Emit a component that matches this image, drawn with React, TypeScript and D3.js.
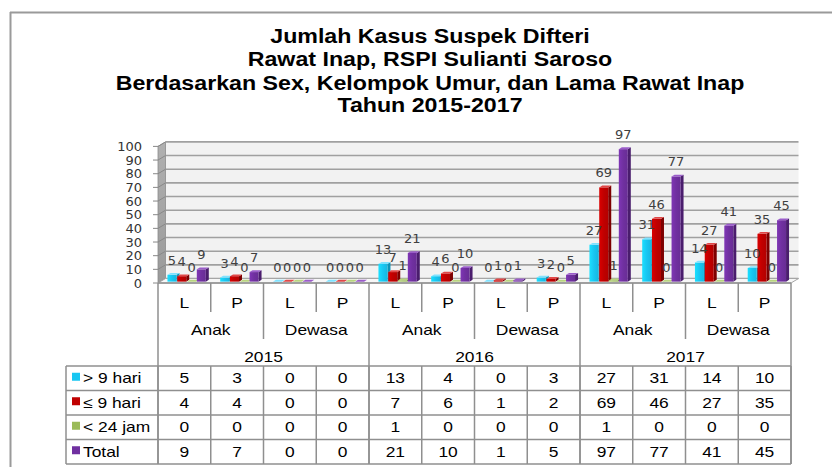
import React from "react";
import * as d3 from "d3";

const years = ["2015", "2016", "2017"];
const groups = ["Anak", "Dewasa"];
const sexes = ["L", "P"];
const seriesNames = ["> 9 hari", "≤ 9 hari", "< 24 jam", "Total"];
const over9 = [5, 3, 0, 0, 13, 4, 0, 3, 27, 31, 14, 10];
const upTo9 = [4, 4, 0, 0, 7, 6, 1, 2, 69, 46, 27, 35];
const under24 = [0, 0, 0, 0, 1, 0, 0, 0, 1, 0, 0, 0];
const totals = [9, 7, 0, 0, 21, 10, 1, 5, 97, 77, 41, 45];
const yTicks = [0, 10, 20, 30, 40, 50, 60, 70, 80, 90, 100];
const titleLines = [
  "Jumlah Kasus Suspek Difteri",
  "Rawat Inap, RSPI Sulianti Saroso",
  "Berdasarkan Sex, Kelompok Umur, dan Lama Rawat Inap",
  "Tahun 2015-2017",
];

const seriesData = [over9, upTo9, under24, totals];
const colors = [
  { front: "#18C6F2", side: "#0B93B8", top: "#7FE2FF" },
  { front: "#C00000", side: "#7E0000", top: "#E04848" },
  { front: "#9BBB59", side: "#6F8A3A", top: "#B9D480" },
  { front: "#7030A0", side: "#4A1D6D", top: "#9A5CC9" },
];

const W = 832;
const H = 467;
const X0 = 158;
const X1 = 791;
const DX = 7.5;
const DY = -4.5;
const F0 = 0.3;
const F1 = 0.7;
const STRETCH = 1.16;
const GRID = "#A0A0A0";
const LINE = "#8F8F8F";

const cats = d3.range(12);
const x = d3.scaleBand<number>().domain(cats).range([X0, X1]).paddingInner(0).paddingOuter(0);
const y = d3.scaleLinear().domain([0, 100]).range([283, 146.4]);
const cw = x.bandwidth();
const xs = d3
  .scaleBand<number>()
  .domain(d3.range(4))
  .range([7.2, cw - 7.2])
  .paddingInner(0.08)
  .paddingOuter(0);

function ST({ x: tx, y: ty, children, size, weight, anchor, fill, family }: any) {
  return (
    <text
      transform={`translate(${tx},${ty}) scale(${STRETCH},1)`}
      textAnchor={anchor || "middle"}
      fontSize={size}
      fontWeight={weight || "normal"}
      fill={fill || "#000"}
      fontFamily={family || "'Liberation Sans', Arial, sans-serif"}
    >
      {children}
    </text>
  );
}

export default function App() {
  const pts = (arr: number[][]) => arr.map((p) => p.join(",")).join(" ");
  const yBack = (v: number) => y(v) + DY;

  const bars: React.ReactNode[] = [];
  const labels: React.ReactNode[] = [];
  cats.forEach((c) => {
    seriesData.forEach((arr, s) => {
      const v = arr[c];
      const bx = (x(c) as number) + (xs(s) as number) + DX * F0;
      const bw = xs.bandwidth();
      const yt = y(v) + DY * F0;
      const yb = y(0) + DY * F0;
      const ddx = DX * (F1 - F0);
      const ddy = DY * (F1 - F0);
      const col = colors[s];
      bars.push(
        <g key={`b${c}-${s}`}>
          {v > 0 && (
            <polygon
              points={pts([[bx + bw, yt], [bx + bw + ddx, yt + ddy], [bx + bw + ddx, yb + ddy], [bx + bw, yb]])}
              fill={col.side}
            />
          )}
          {v > 0 && <rect x={bx} y={yt} width={bw} height={yb - yt} fill={`url(#grad${s})`} />}
          <polygon
            points={pts([[bx, yt], [bx + bw, yt], [bx + bw + ddx, yt + ddy], [bx + ddx, yt + ddy]])}
            fill={col.top}
          />
        </g>
      );
      labels.push(
        <text
          key={`l${c}-${s}`}
          x={bx + bw / 2}
          y={yt - 10}
          textAnchor="middle"
          fontSize={13}
          fill="#404040"
          fontFamily="'DejaVu Sans', Verdana, sans-serif"
        >
          {v}
        </text>
      );
    });
  });

  const rowLines = [366, 390.5, 415, 439.5, 464];
  const boundaries = d3.range(13);

  return (
    <svg width={W} height={H} style={{ position: "absolute", left: 0, top: 0, background: "#fff" }}>
      <defs>
        {colors.map((col, i) => (
          <linearGradient key={i} id={`grad${i}`} x1="0" x2="1" y1="0" y2="0">
            <stop offset="0" stopColor={d3.color(col.front)!.brighter(0.35).formatHex()} />
            <stop offset="0.5" stopColor={col.front} />
            <stop offset="1" stopColor={d3.color(col.front)!.darker(0.2).formatHex()} />
          </linearGradient>
        ))}
        <linearGradient id="sidewall" x1="0" x2="0" y1="0" y2="1">
          <stop offset="0" stopColor="#B0B0B0" />
          <stop offset="1" stopColor="#9A9A9A" />
        </linearGradient>
      </defs>
      <rect x={0} y={0} width={W} height={H} fill="#fff" />
      {/* frame */}
      <line x1={10} x2={W} y1={12.5} y2={12.5} stroke="#9A9A9A" strokeWidth={2} />
      <line x1={10.5} x2={10.5} y1={12} y2={H} stroke="#9A9A9A" strokeWidth={2} />

      {/* title */}
      {titleLines.map((t, i) => (
        <ST key={i} x={430} y={[43, 66, 90, 112][i]} size={20} weight="bold">
          {t}
        </ST>
      ))}

      {/* back wall */}
      <rect x={X0 + DX} y={yBack(100)} width={X1 - X0} height={yBack(0) - yBack(100)} fill="#F2F2F2" />
      {/* side wall */}
      <polygon
        points={pts([[X0, y(0)], [X0, y(100)], [X0 + DX, yBack(100)], [X0 + DX, yBack(0)]])}
        fill="url(#sidewall)"
        stroke="#8A8A8A"
        strokeWidth={0.8}
      />
      {yTicks.map((v) => (
        <g key={`g${v}`}>
          <line x1={X0 + DX} x2={X1 + DX} y1={yBack(v)} y2={yBack(v)} stroke={GRID} strokeWidth={1.6} />
          <line x1={X0} x2={X0 + DX} y1={y(v)} y2={yBack(v)} stroke="#888" strokeWidth={1} />
          <line x1={X0 - 5} x2={X0} y1={y(v)} y2={y(v)} stroke="#888" strokeWidth={1} />
          <text
            x={142}
            y={y(v) + 4.6}
            textAnchor="end"
            fontSize={13}
            fill="#333"
            fontFamily="'DejaVu Sans', Verdana, sans-serif"
          >
            {v}
          </text>
        </g>
      ))}
      {/* floor */}
      <polygon
        points={pts([[X0, y(0)], [X1, y(0)], [X1 + DX, yBack(0)], [X0 + DX, yBack(0)]])}
        fill="#F7F7F7"
        stroke="#A6A6A6"
        strokeWidth={1}
      />

      {bars}
      {labels}

      {/* table */}
      <g stroke={LINE} strokeWidth={1.5}>
        <line x1={X0} x2={X1} y1={283} y2={283} />
        {boundaries.map((i) => {
          const bxp = X0 + i * cw;
          const top = 283;
          let bottom = 312;
          if (i % 4 === 0) bottom = 464;
          else if (i % 2 === 0) bottom = 339;
          return (
            <g key={`v${i}`}>
              <line x1={bxp} x2={bxp} y1={top} y2={bottom} />
              <line x1={bxp} x2={bxp} y1={366} y2={464} />
            </g>
          );
        })}
        {rowLines.map((ry, i) => (
          <line key={`h${i}`} x1={66} x2={X1} y1={ry} y2={ry} />
        ))}
        <line x1={66} x2={66} y1={366} y2={464} />
      </g>

      {/* header labels */}
      {cats.map((c) => (
        <ST key={`s${c}`} x={(x(c) as number) + cw / 2} y={308} size={15}>
          {sexes[c % 2]}
        </ST>
      ))}
      {d3.range(6).map((g) => (
        <ST key={`gr${g}`} x={X0 + cw * (2 * g + 1)} y={335} size={15}>
          {groups[g % 2]}
        </ST>
      ))}
      {years.map((yr, i) => (
        <ST key={`y${i}`} x={X0 + cw * (4 * i + 2)} y={362} size={15}>
          {yr}
        </ST>
      ))}

      {/* legend + values */}
      {seriesData.map((arr, s) => {
        const cy = (rowLines[s] + rowLines[s + 1]) / 2;
        return (
          <g key={`r${s}`}>
            <rect x={72} y={cy - 5.5} width={8} height={8} fill={colors[s].front} />
            <ST x={83} y={cy + 5} size={15} anchor="start">
              {seriesNames[s]}
            </ST>
            {arr.map((v, c) => (
              <ST key={c} x={(x(c) as number) + cw / 2} y={cy + 5} size={15}>
                {v}
              </ST>
            ))}
          </g>
        );
      })}
    </svg>
  );
}
